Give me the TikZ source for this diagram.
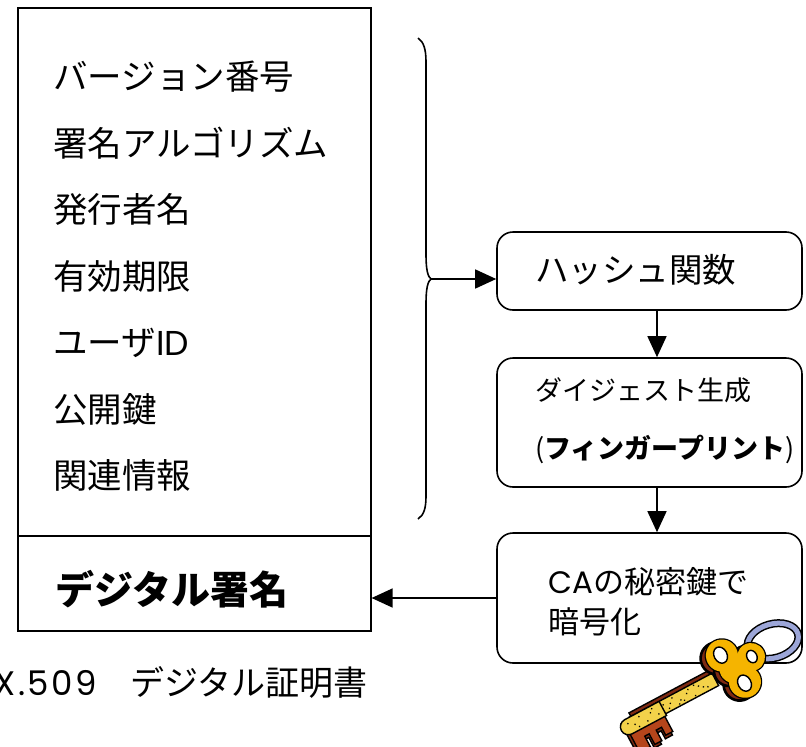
\documentclass[tikz,border=0pt]{standalone}
\usepackage{fontspec}
\newfontfamily\jp{Noto Sans CJK JP}
\newfontfamily\lat{Poppins}
\usetikzlibrary{arrows.meta}

\definecolor{keygold}{HTML}{F5B400}
\definecolor{keyshaft}{HTML}{F3D24A}
\definecolor{keybrown}{HTML}{7E2A12}
\definecolor{keyteeth}{HTML}{B5451B}
\definecolor{ringblue}{HTML}{9CA6D8}

\begin{document}
\begin{tikzpicture}[x=1pt,y=-1pt,
  frame/.style={draw, line width=1.6pt, inner sep=0pt},
  procbox/.style={draw, line width=1.6pt, rounded corners=16pt, inner sep=0pt,
    minimum width=305pt},
  field/.style={inner sep=0pt, anchor=base west, font=\jp\fontsize{34.5pt}{40pt}\selectfont},
  small/.style={inner sep=0pt, anchor=base west, font=\jp\fontsize{27pt}{32pt}\selectfont},
  conn/.style={line width=1.4pt, -{Triangle[length=21pt,width=19pt]}},
]
\useasboundingbox (0,0) rectangle (806,747);

% certificate body and signature field
\node[frame, minimum width=353pt, minimum height=528pt, anchor=north west] (fields) at (17,7) {};
\node[frame, minimum width=353pt, minimum height=95pt, anchor=north west] (sig) at (17,535) {};

\node[field] (f1) at (53,89.5)  {バージョン番号};
\node[field] (f2) at (53,156)   {署名アルゴリズム};
\node[field] (f3) at (53,222.5) {発行者名};
\node[field] (f4) at (53,289)   {有効期限};
\node[field] (f5) at (53,355.5) {ユーザ{\lat ID}};
\node[field] (f6) at (53,422)   {公開鍵};
\node[field] (f7) at (53,488.5) {関連情報};

\node[inner sep=0pt, anchor=base west, font=\jp\bfseries\fontsize{39pt}{44pt}\selectfont]
  (sigtxt) at (55,604) {デジタル署名};

\node[inner sep=0pt, anchor=base east, font=\jp\fontsize{34pt}{40pt}\selectfont]
  (caption) at (368,695) {{\lat\addfontfeatures{LetterSpace=7}X.509}　デジタル証明書};

% processing steps
\node[procbox, minimum height=78pt]  (hash)   at (649.5,271) {};
\node[procbox, minimum height=129pt] (digest) at (649.5,422.5) {};
\node[procbox, minimum height=130pt] (ca)     at (649.5,598) {};

\node[inner sep=0pt, anchor=base west, font=\jp\fontsize{33.5pt}{40pt}\selectfont]
  (hashtxt) at (535,282.5) {ハッシュ関数};
\node[small] (dig1) at (535,400) {ダイジェスト生成};
\node[small] (dig2) at (535,458) {(\textbf{フィンガープリント})};
\node[inner sep=0pt, anchor=base west, font=\jp\fontsize{31pt}{36pt}\selectfont]
  (ca1) at (548,593) {{\lat CA}の秘密鍵で};
\node[inner sep=0pt, anchor=base west, font=\jp\fontsize{31pt}{36pt}\selectfont]
  (ca2) at (548,633) {暗号化};

% brace gathering the fields
\coordinate (btip) at (431,279);
\draw[line width=1.6pt]
  (418,38) .. controls (424,42) and (426,50) .. (426,62)
  -- (426,255) .. controls (426,270) and (428,277) .. (btip)
  .. controls (428,281) and (426,288) .. (426,303)
  -- (426,496) .. controls (426,508) and (424,515) .. (418,519);

% connectors
\draw[conn] (btip) -- (btip -| hash.west);
\draw[conn] ([xshift=7.5pt]hash.south) -- ([xshift=7.5pt]digest.north);
\draw[conn] ([xshift=7.5pt]digest.south) -- ([xshift=7.5pt]ca.north);
\draw[conn] (ca.west) -- (ca.west -| sig.east);

% key clip art: ring first, then the key over it
\draw[black, line width=8pt, rotate around={16:(773,641)}] (773,641) ellipse (26 and 17);
\draw[ringblue, line width=5pt, rotate around={16:(773,641)}] (773,641) ellipse (26 and 17);

\begin{scope}[shift={(733,670)}, rotate=208]
  % shaft with its dark underside
  \filldraw[fill=keybrown, line width=1.4pt] (22,0) rectangle (112,11);
  \filldraw[fill=keyshaft, line width=1.4pt] (20,-7) rectangle (114,7);
  \foreach \px/\py in {30/-3,38/2,45/-5,52/1,60/-2,67/4,74/-4,82/0,88/3,95/-3,102/1,108/-2,
                       34/-1,49/4,63/-5,78/2,92/0,106/4,42/5,57/-4,71/0,86/-4}
    \fill (\px,\py) circle (0.9);
  % bit with notched teeth
  \filldraw[fill=keybrown, line width=1.4pt]
    (84,5) -- (84,-29) -- (92,-29) -- (92,-20) -- (98,-20) -- (98,-32) -- (106,-32)
    -- (106,-20) -- (111,-20) -- (111,-32) -- (124,-32) -- (124,5) -- cycle;
  \filldraw[fill=keyteeth, line width=1.4pt]
    (82,-8) -- (82,-26) -- (90,-26) -- (90,-17) -- (96,-17) -- (96,-29) -- (104,-29)
    -- (104,-17) -- (109,-17) -- (109,-29) -- (121,-29) -- (121,-8) -- cycle;
  \filldraw[fill=keyshaft, line width=1.4pt] (80,-9) -- (119,-9) arc (-90:90:8) -- (80,7) -- cycle;
  \foreach \px/\py in {86/-4,93/1,99/-5,105/3,112/-2,118/2,90/4,109/-6}
    \fill (\px,\py) circle (0.9);
  % bow: dark side, outline, then gold fill
  \foreach \lx/\ly/\r in {3/18/16, -5/-16/16, -22/3/14, -2/1/15}
    \filldraw[fill=keybrown, line width=2.6pt] (\lx+6,\ly) circle (\r);
  \foreach \lx/\ly/\r in {3/18/16, -5/-16/16, -22/3/14, -2/1/15}
    \draw[line width=2.6pt] (\lx,\ly) circle (\r);
  \foreach \lx/\ly/\r in {3/18/16, -5/-16/16, -22/3/14, -2/1/15}
    \fill[keygold] (\lx,\ly) circle (\r);
  % holes
  \filldraw[fill=white, line width=1.4pt] (4,19) ellipse (6.5 and 8.5);
  \filldraw[fill=white, line width=1.4pt] (-4,-17) ellipse (6.5 and 8.5);
  \filldraw[fill=white, line width=1.4pt] (-23,3) ellipse (5 and 6.5);
\end{scope}
\end{tikzpicture}
\end{document}
